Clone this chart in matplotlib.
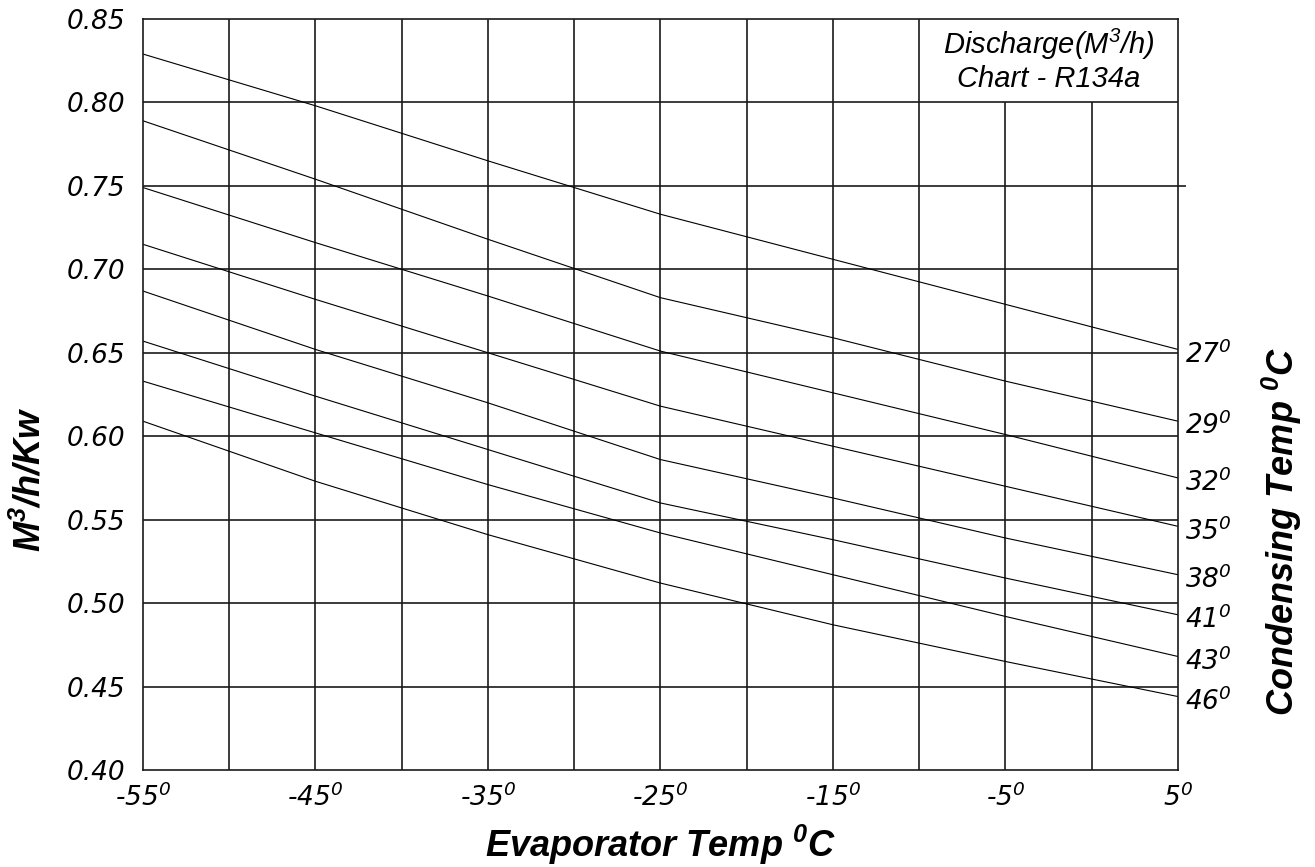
"""Discharge chart for R134a: M3/h per kW vs evaporator temp."""

import matplotlib

matplotlib.use("Agg")
import matplotlib.pyplot as plt

plt.rcParams["mathtext.fontset"] = "custom"
plt.rcParams["mathtext.it"] = "DejaVu Sans:italic"
plt.rcParams["mathtext.rm"] = "DejaVu Sans:italic"
plt.rcParams["mathtext.sf"] = "Liberation Sans:italic"
plt.rcParams["mathtext.bf"] = "Liberation Sans:bold:italic"
plt.rcParams["mathtext.default"] = "it"

evap_temps = [-55, -45, -35, -25, -15, -5, 5]

cond_temps = [27, 29, 32, 35, 38, 41, 43, 46]

discharge_27 = [0.829, 0.798, 0.765, 0.733, 0.706, 0.679, 0.652]
discharge_29 = [0.789, 0.754, 0.718, 0.683, 0.659, 0.633, 0.609]
discharge_32 = [0.749, 0.716, 0.684, 0.651, 0.626, 0.601, 0.575]
discharge_35 = [0.715, 0.682, 0.650, 0.618, 0.594, 0.570, 0.546]
discharge_38 = [0.687, 0.652, 0.620, 0.586, 0.563, 0.539, 0.517]
discharge_41 = [0.657, 0.624, 0.592, 0.560, 0.538, 0.515, 0.493]
discharge_43 = [0.633, 0.602, 0.571, 0.542, 0.517, 0.492, 0.468]
discharge_46 = [0.609, 0.573, 0.541, 0.512, 0.487, 0.465, 0.444]

curves = [
    discharge_27,
    discharge_29,
    discharge_32,
    discharge_35,
    discharge_38,
    discharge_41,
    discharge_43,
    discharge_46,
]

x_ticks = [-55, -45, -35, -25, -15, -5, 5]
y_ticks = [0.40, 0.45, 0.50, 0.55, 0.60, 0.65, 0.70, 0.75, 0.80, 0.85]

GRID_COLOR = "#1a1a1a"
TICK_FONT = "DejaVu Sans"
LABEL_FONT = "Liberation Sans"


def plot_chart(save_path="out.png"):
    fig = plt.figure(figsize=(13.15, 8.67), dpi=100)
    ax = fig.add_axes([0.1087, 0.1119, 0.7871, 0.8662])

    xmin, xmax = -55, 5
    ymin, ymax = 0.40, 0.85
    ax.set_xlim(xmin, xmax)
    ax.set_ylim(ymin, ymax)

    # grid: the -5 and 0 verticals stop under the title box
    for xv in range(-50, 5, 5):
        top = 0.80 if xv > -10 else ymax
        ax.vlines(xv, ymin, top, color=GRID_COLOR, linewidth=1.2)
    for yv in y_ticks[1:-1]:
        ax.hlines(yv, xmin, xmax, color=GRID_COLOR, linewidth=1.2)
    ax.hlines(0.75, xmax, xmax + 0.45, color=GRID_COLOR, linewidth=1.2,
              clip_on=False)

    for sp in ax.spines.values():
        sp.set_color(GRID_COLOR)
        sp.set_linewidth(1.2)

    for ct, vals in zip(cond_temps, curves):
        ax.plot(evap_temps, vals, color="black", linewidth=0.8)
        ax.text(xmax + 0.4, vals[-1] - 0.003, f"{ct}$^0$",
                fontsize=19, family=TICK_FONT, style="italic",
                ha="left", va="center", clip_on=False)

    ax.set_xticks(x_ticks)
    ax.set_xticklabels([f"{t}$^0$" for t in x_ticks])
    ax.set_yticks(y_ticks)
    ax.set_yticklabels([f"{t:.2f}" for t in y_ticks])
    ax.tick_params(axis="both", length=0, labelsize=19)
    ax.tick_params(axis="y", pad=13)
    ax.tick_params(axis="x", pad=10)
    for lab in ax.get_xticklabels() + ax.get_yticklabels():
        lab.set_family(TICK_FONT)
        lab.set_style("italic")

    ax.text(-2.5, 0.8255, "Discharge(M$^{\\mathsf{3}}$/h)\nChart - R134a",
            fontsize=21, family=LABEL_FONT, style="italic",
            ha="center", va="center", linespacing=1.15)

    fig.text(0.502, 0.026, "Evaporator Temp $^{\\mathbf{0}}$C",
             fontsize=26, family=LABEL_FONT, weight="bold", style="italic",
             ha="center", va="center")
    fig.text(0.023, 0.4475, "M$^{\\mathbf{3}}$/h/Kw", rotation=90,
             fontsize=26, family=LABEL_FONT, weight="bold", style="italic",
             ha="center", va="center")
    fig.text(0.975, 0.3875, "Condensing Temp $^{\\mathbf{0}}$C", rotation=90,
             fontsize=26, family=LABEL_FONT, weight="bold", style="italic",
             ha="center", va="center")

    fig.savefig(save_path, dpi=100)


if __name__ == "__main__":
    plot_chart()
